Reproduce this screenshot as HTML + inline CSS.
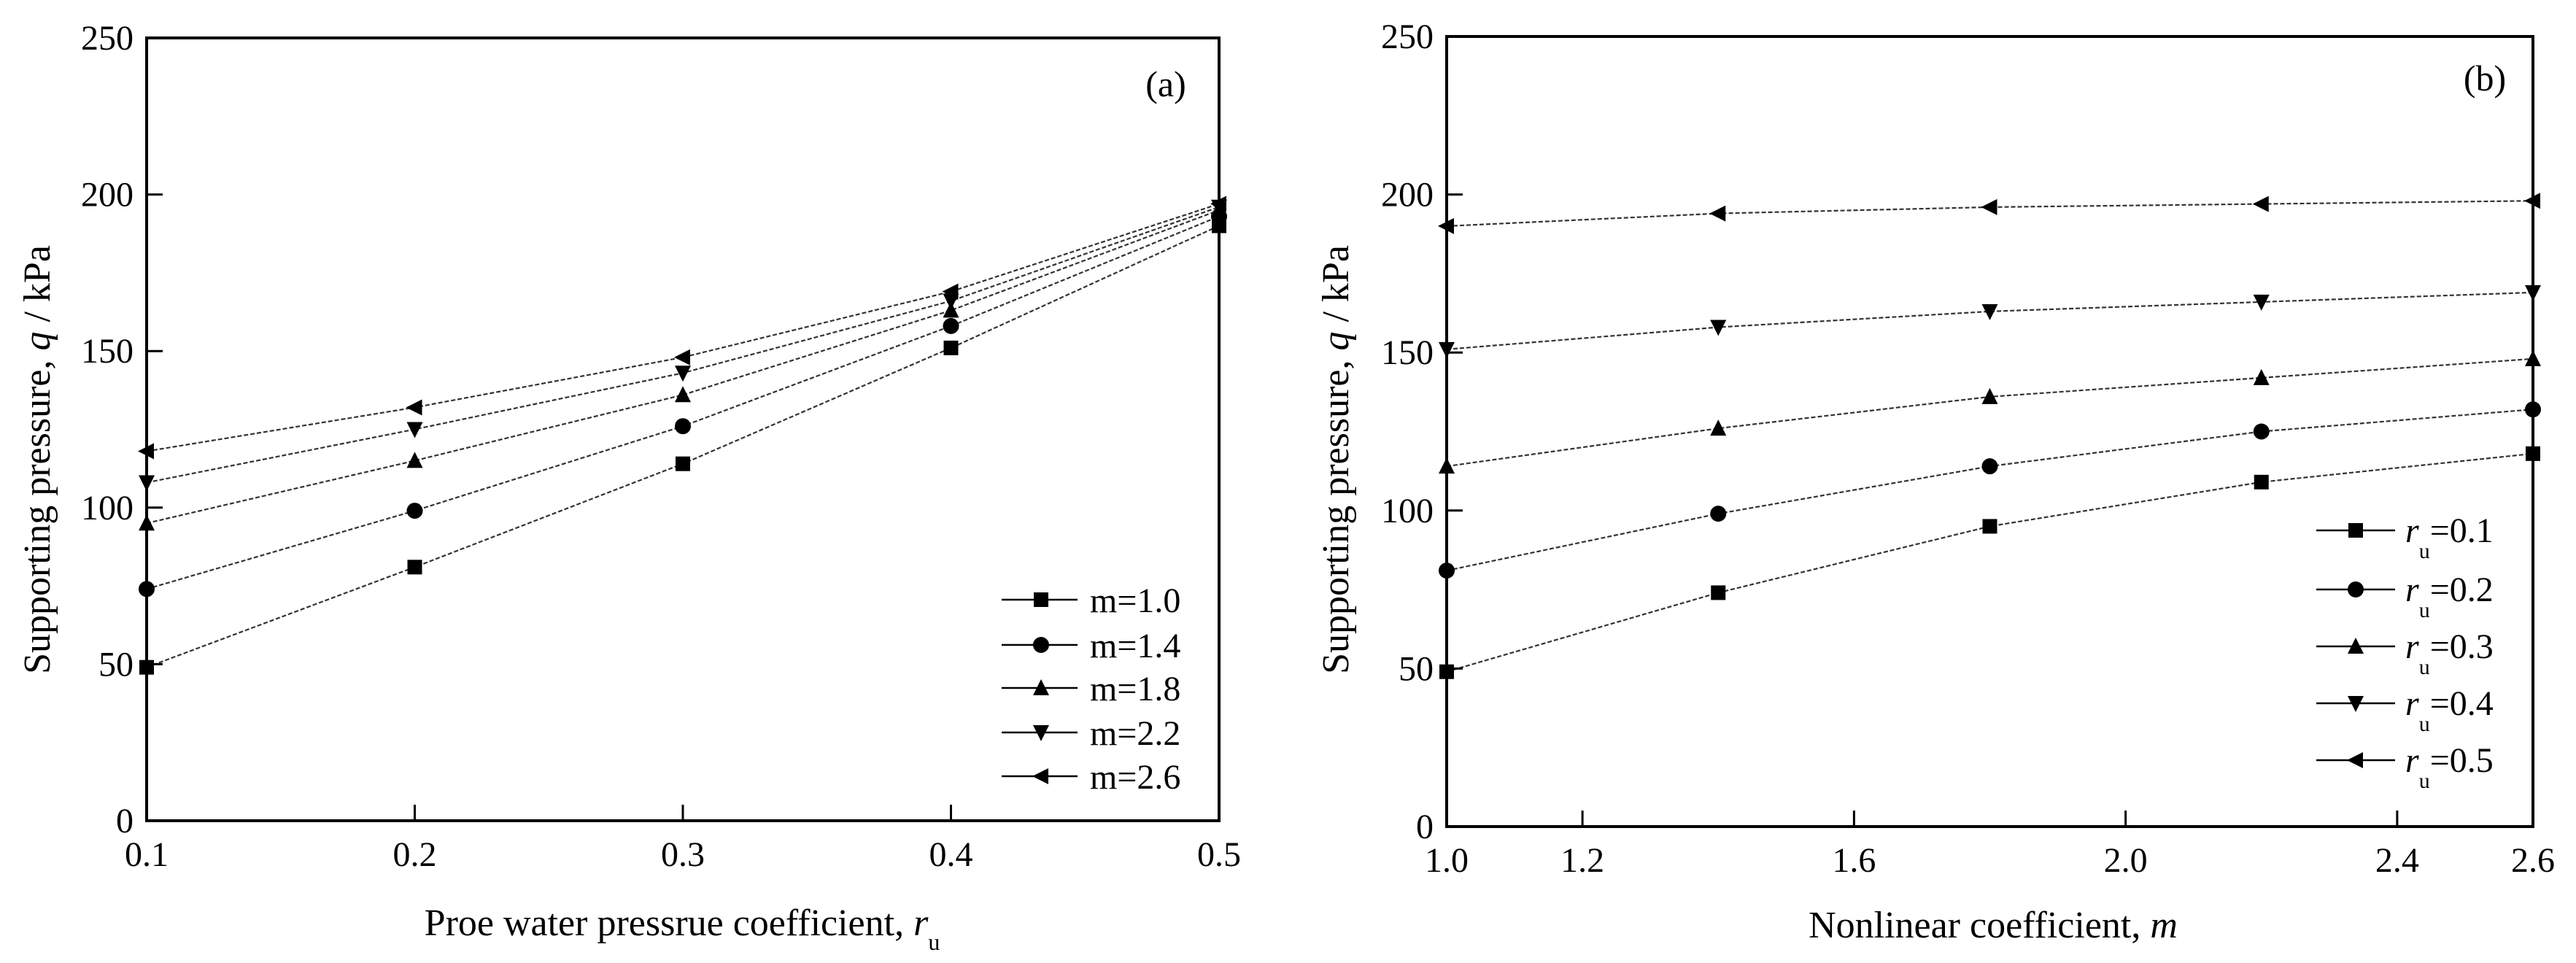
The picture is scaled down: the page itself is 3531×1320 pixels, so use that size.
<!DOCTYPE html>
<html><head><meta charset="utf-8">
<style>
html,body{margin:0;padding:0;background:#fff;}
svg{display:block;}
text{font-family:"Liberation Serif",serif;fill:#000;}
</style></head>
<body>
<svg id="fig" width="3531" height="1320" viewBox="0 0 3531 1320" xmlns="http://www.w3.org/2000/svg"></svg>
<script>
// ---- Chart (a) data ----
const aX = [0.1, 0.2, 0.3, 0.4, 0.5];
const aXTicks = ["0.1","0.2","0.3","0.4","0.5"];
const aLabels = ["m=1.0","m=1.4","m=1.8","m=2.2","m=2.6"];
const aM10 = [49, 81, 114, 151, 190];
const aM14 = [74, 99, 126, 158, 193];
const aM18 = [95, 115, 136, 163, 195];
const aM22 = [108, 125, 143, 166, 196];
const aM26 = [118, 132, 148, 169, 197];
// ---- Chart (b) data ----
const bX = [1.0, 1.4, 1.8, 2.2, 2.6];
const bXTicks = [1.0, 1.2, 1.6, 2.0, 2.4, 2.6];
const bLabels = ["0.1","0.2","0.3","0.4","0.5"];
const bR1 = [49, 74, 95, 109, 118];
const bR2 = [81, 99, 114, 125, 132];
const bR3 = [114, 126, 136, 142, 148];
const bR4 = [151, 158, 163, 166, 169];
const bR5 = [190, 194, 196, 197, 198];
const yTicks = [0, 50, 100, 150, 200, 250];
const markers = ["square","circle","up","down","left"];

const NS = "http://www.w3.org/2000/svg";
const svg = document.getElementById("fig");
function mk(tag, attrs, parent){
  const e = document.createElementNS(NS, tag);
  for (const k in attrs) e.setAttribute(k, attrs[k]);
  (parent||svg).appendChild(e);
  return e;
}
function marker(g, type, x, y){
  const s = 10; let e;
  if (type==="square") e = mk("rect",{x:x-s,y:y-s,width:2*s,height:2*s,fill:"#000"},g);
  else if (type==="circle") e = mk("circle",{cx:x,cy:y,r:s+1,fill:"#000"},g);
  else if (type==="up") e = mk("polygon",{points:`${x},${y-s-2} ${x+s+1},${y+s} ${x-s-1},${y+s}`,fill:"#000"},g);
  else if (type==="down") e = mk("polygon",{points:`${x},${y+s+2} ${x+s+1},${y-s} ${x-s-1},${y-s}`,fill:"#000"},g);
  else e = mk("polygon",{points:`${x-s-2},${y} ${x+s},${y-s-1} ${x+s},${y+s+1}`,fill:"#000"},g);
  return e;
}

function chart(cfg){
  const {L,R,T,B,xmin,xmax,xs,series,ticks,tickLbl,name} = cfg;
  const g = mk("g",{});
  
  
  const sx = v => L + (v - xmin)/(xmax - xmin)*(R - L);
  const sy = v => B - v/250*(B - T);
  // series
  series.forEach((vals, i) => {
    const sg = mk("g",{},g);
    
    
    const pts = vals.map((v,j)=>`${sx(xs[j])},${sy(v)}`).join(" ");
    mk("polyline",{points:pts,fill:"none",stroke:"#333","stroke-width":2.2,"stroke-dasharray":"6,3"},sg);
    vals.forEach((v,j)=>{
      const m = marker(sg, markers[i], sx(xs[j]), sy(v));
      
      
    });
  });
  // frame
  const fr = mk("rect",{x:L,y:T,width:R-L,height:B-T,fill:"none",stroke:"#000","stroke-width":4},g);
  
  
  // y ticks
  yTicks.forEach(v=>{
    const y = sy(v);
    mk("line",{x1:L,x2:L+22,y1:y,y2:y,stroke:"#000","stroke-width":3},g);
    const t = mk("text",{x:L-18,y:y+16,"text-anchor":"end","font-size":48},g);
    t.textContent = v;
    
    
  });
  // x ticks
  ticks.forEach((v,i)=>{
    const x = sx(v);
    mk("line",{x1:x,x2:x,y1:B,y2:B-22,stroke:"#000","stroke-width":3},g);
    const t = mk("text",{x:x,y:B+62,"text-anchor":"middle","font-size":48},g);
    t.textContent = tickLbl[i];
    
    
  });
  return {g, sx, sy};
}

// Chart a
const ca = chart({L:201,R:1671,T:52,B:1125,xmin:0.1,xmax:0.5,xs:aX,
  series:[aM10,aM14,aM18,aM22,aM26],ticks:aX,tickLbl:aXTicks,name:"chart-a",
  seriesNames:["series-m-1-0","series-m-1-4","series-m-1-8","series-m-2-2","series-m-2-6"]});
// Chart b
const cb = chart({L:1983,R:3472,T:50,B:1133,xmin:1.0,xmax:2.6,xs:bX,
  series:[bR1,bR2,bR3,bR4,bR5],ticks:bXTicks,tickLbl:bXTicks.map(v=>v.toFixed(1)),name:"chart-b",
  seriesNames:["series-ru-0-1","series-ru-0-2","series-ru-0-3","series-ru-0-4","series-ru-0-5"]});

// legends
const rowsA = [822, 884, 943, 1004, 1064];
aLabels.forEach((lab,i)=>{
  const lg = mk("g",{});
  
  
  mk("line",{x1:1373,x2:1477,y1:rowsA[i],y2:rowsA[i],stroke:"#000","stroke-width":2.5},lg);
  marker(lg, markers[i], 1427, rowsA[i]);
  const t = mk("text",{x:1494,y:rowsA[i]+17,"font-size":48},lg);
  t.textContent = lab;
});
const rowsB = [727, 808, 886, 964, 1042];
bLabels.forEach((lab,i)=>{
  const lg = mk("g",{});
  
  
  mk("line",{x1:3175,x2:3283,y1:rowsB[i],y2:rowsB[i],stroke:"#000","stroke-width":2.5},lg);
  marker(lg, markers[i], 3229, rowsB[i]);
  const t = mk("text",{x:3297,y:rowsB[i]+16,"font-size":48},lg);
  const r = mk("tspan",{"font-style":"italic"},t); r.textContent = "r";
  const u = mk("tspan",{"font-size":30,dy:22},t); u.textContent = "u";
  const v = mk("tspan",{dy:-22},t); v.textContent = "=" + lab;
});
</script>
<svg width="0" height="0" style="position:absolute"></svg>
<script>
// static text labels
(function(){
  const NS="http://www.w3.org/2000/svg", s=document.getElementById("fig");
  function t(attrs, html, name){
    const e=document.createElementNS(NS,"text");
    for(const k in attrs) e.setAttribute(k,attrs[k]);
    e.innerHTML=html;
    
    
    s.appendChild(e);
  }
  t({x:1598,y:132,"text-anchor":"middle","font-size":50},"(a)","panel-label-a");
  t({x:3406,y:124,"text-anchor":"middle","font-size":50},"(b)","panel-label-b");
  t({x:935,y:1282,"text-anchor":"middle","font-size":52},'Proe water pressrue coefficient, <tspan font-style="italic">r</tspan><tspan font-size="32" dy="20">u</tspan>',"x-axis-title-a");
  t({x:2732,y:1285,"text-anchor":"middle","font-size":52},'Nonlinear coefficient, <tspan font-style="italic">m</tspan>',"x-axis-title-b");
  t({x:0,y:0,"text-anchor":"middle","font-size":52,transform:"translate(68,630) rotate(-90)"},'Supporting pressure, <tspan font-style="italic">q</tspan> / kPa',"y-axis-title-a");
  t({x:0,y:0,"text-anchor":"middle","font-size":52,transform:"translate(1848,630) rotate(-90)"},'Supporting pressure, <tspan font-style="italic">q</tspan> / kPa',"y-axis-title-b");
})();
</script>
</body></html>
